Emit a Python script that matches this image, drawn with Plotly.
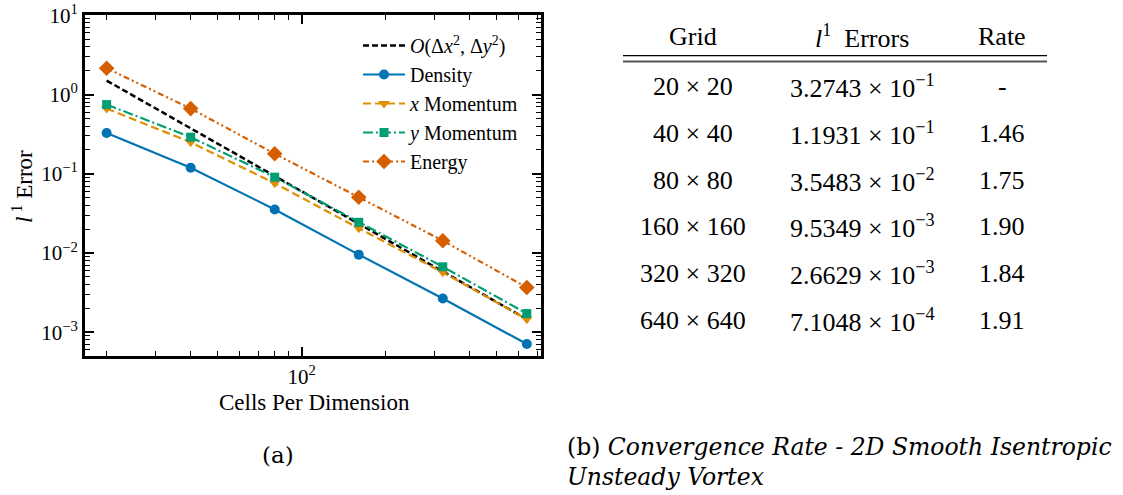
import plotly.graph_objects as go

# ---------------- data ----------------
cells = [20, 40, 80, 160, 320, 640]
ref_order2 = [1.5, 0.375, 0.0938, 0.0234, 0.00586, 0.00146]
density = [0.32743, 0.11931, 0.035483, 0.0095349, 0.0026629, 0.00071048]
x_momentum = [0.665, 0.25, 0.076, 0.0205, 0.0057, 0.00146]
y_momentum = [0.747, 0.29, 0.0906, 0.0244, 0.0067, 0.00172]
energy = [2.15, 0.665, 0.179, 0.0506, 0.0143, 0.00367]

y_tickvals = [10, 1, 0.1, 0.01, 0.001]
y_ticktext = ["10<sup>1</sup>", "10<sup>0</sup>", "10<sup>−1</sup>", "10<sup>−2</sup>", "10<sup>−3</sup>"]
x_tickvals = [100]
x_ticktext = ["10<sup>2</sup>"]

table_headers = ["Grid", "<i>l</i><sup>1</sup>  Errors", "Rate"]
table_grid = ["20 × 20", "40 × 40", "80 × 80", "160 × 160", "320 × 320", "640 × 640"]
table_mant = ["3.2743", "1.1931", "3.5483", "9.5349", "2.6629", "7.1048"]
table_exp = ["−1", "−1", "−2", "−3", "−3", "−4"]
table_rate = ["-", "1.46", "1.75", "1.90", "1.84", "1.91"]

# ---------------- figure ----------------
W, H = 1123, 495
SERIF = "Liberation Serif, Times New Roman, Times, serif"
CAPFONT = "DejaVu Serif, serif"


def px_x(x):
    return x / W


def px_y(y):
    return 1 - y / H


fig = go.Figure()

fig.add_trace(go.Scatter(
    x=cells, y=ref_order2, mode="lines", legendgroup="g0",
    name="<i>O</i>(Δ<i>x</i><sup>2</sup>, Δ<i>y</i><sup>2</sup>)",
    line=dict(color="black", width=2.5, dash="6px,3px")))
fig.add_trace(go.Scatter(
    x=cells, y=density, mode="lines+markers", name="Density", legendgroup="g1",
    line=dict(color="#0173B2", width=2.2),
    marker=dict(symbol="circle", size=10, color="#0173B2")))
fig.add_trace(go.Scatter(
    x=cells, y=x_momentum, mode="lines+markers", name="<i>x</i> Momentum", legendgroup="g2",
    line=dict(color="#DE8F05", width=2.2, dash="8px,4px"),
    marker=dict(symbol="triangle-down", size=10, color="#DE8F05")))
fig.add_trace(go.Scatter(
    x=cells, y=y_momentum, mode="lines+markers", name="<i>y</i> Momentum", legendgroup="g3",
    line=dict(color="#029E73", width=2.2, dash="10px,3px,2px,3px"),
    marker=dict(symbol="square", size=9, color="#029E73")))
fig.add_trace(go.Scatter(
    x=cells, y=energy, mode="lines+markers", name="Energy", legendgroup="g4",
    line=dict(color="#D55E00", width=2.2, dash="6px,3px,2px,3px,2px,3px"),
    marker=dict(symbol="diamond", size=12, color="#D55E00")))

axis_common = dict(
    showline=True, linecolor="black", linewidth=3, mirror="allticks",
    ticks="inside", ticklen=9, tickwidth=1.5, tickcolor="black",
    showgrid=False, zeroline=False, automargin=False,
    ticklabeloverflow="allow",
    tickfont=dict(family=SERIF, size=21, color="black"),
    minor=dict(ticks="inside", ticklen=5, tickwidth=1.2, tickcolor="black", dtick="D1"),
)

fig.update_layout(
    width=W, height=H,
    margin=dict(l=0, r=0, t=0, b=0),
    paper_bgcolor="white", plot_bgcolor="white",
    font=dict(family=SERIF, color="black"),
    showlegend=True,
    legend=dict(
        x=px_x(358), y=px_y(26), xanchor="left", yanchor="top",
        bgcolor="rgba(255,255,255,0)", borderwidth=0,
        font=dict(family=SERIF, size=20, color="black"),
        itemwidth=42, tracegroupgap=0,
    ),
    xaxis=dict(
        type="log", range=[1.2235, 2.857],
        domain=[px_x(85), px_x(541)],
        tickvals=x_tickvals, ticktext=x_ticktext,
        **axis_common,
    ),
    yaxis=dict(
        type="log", range=[-3.30, 1.004],
        domain=[px_y(356), px_y(15)],
        tickvals=y_tickvals, ticktext=y_ticktext,
        **axis_common,
    ),
)


def note(x, y, text, size, xanchor="center", angle=0, family=SERIF):
    fig.add_annotation(x=px_x(x), y=px_y(y), xref="paper", yref="paper",
                       xanchor=xanchor, yanchor="middle", text=text,
                       showarrow=False, textangle=angle,
                       font=dict(family=family, size=size, color="black"))


# axis titles
note(314, 402, "Cells Per Dimension", 23)
note(22, 187, "<i>l</i><sup> 1</sup> Error", 23, angle=-90)

# ---------------- captions ----------------
note(278, 455, "(a)", 23, family=CAPFONT)
note(565, 447, "(b) <i>Convergence Rate - 2D Smooth Isentropic</i>", 23.5, xanchor="left", family=CAPFONT)
note(565, 477, "<i>Unsteady Vortex</i>", 23.5, xanchor="left", family=CAPFONT)

# ---------------- table ----------------
col_x = [693, 862, 1002]
for cx, h in zip(col_x, table_headers):
    note(cx, 36, h, 26)

fig.add_shape(type="line", xref="paper", yref="paper",
              x0=px_x(623), x1=px_x(1047), y0=px_y(55.7), y1=px_y(55.7),
              line=dict(color="black", width=1.2))
fig.add_shape(type="line", xref="paper", yref="paper",
              x0=px_x(623), x1=px_x(1047), y0=px_y(61.5), y1=px_y(61.5),
              line=dict(color="#555555", width=1.8))

row_y0 = 86.7
row_dy = 46.66
for i in range(len(table_grid)):
    ry = row_y0 + i * row_dy
    note(col_x[0], ry, table_grid[i], 26)
    note(col_x[1], ry, f"{table_mant[i]} × 10<sup>{table_exp[i]}</sup>", 26)
    note(col_x[2], ry, table_rate[i], 26)

fig.write_html(
    "out.html",
    config={"displayModeBar": False},
    post_script="document.body.style.margin='0';document.body.style.overflow='hidden';",
)
